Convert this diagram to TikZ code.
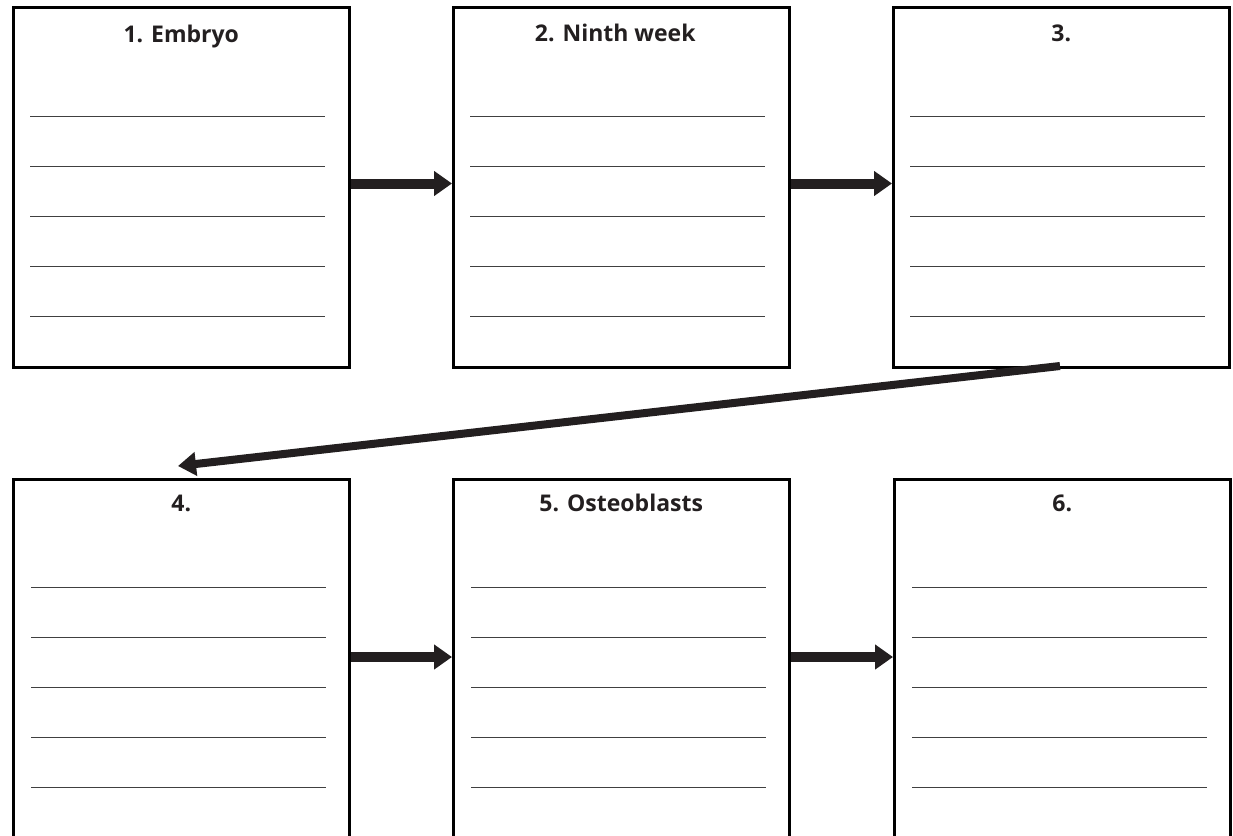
\documentclass[tikz,border=0pt]{standalone}
\usepackage{fontspec}
\setmainfont{Open Sans}
\usetikzlibrary{arrows.meta}
\definecolor{ink}{HTML}{231F20}
\tikzset{
  box/.style={draw=black, line width=2.5pt, fill=white, rectangle, inner sep=0pt,
    minimum width=336pt, minimum height=360pt, anchor=north west},
  lowbox/.style={box, minimum height=380pt},
  title/.style={anchor=base, font=\fontsize{23}{26}\selectfont\bfseries, text=ink, inner sep=0pt},
  rule/.style={draw=black!75, line width=1pt},
  flow/.style={draw=ink, line width=10pt, -{Triangle[length=18pt,width=24pt]}},
  diag/.style={draw=ink, line width=8pt, -{Triangle[length=18pt,width=23pt]}},
}
\begin{document}
\begin{tikzpicture}[x=1pt,y=-1pt]
\useasboundingbox (0,0) rectangle (1233,835);
\fill[white] (0,0) rectangle (1233,835);
% top row
\node[box] (b1) at (12,6) {};
\node[box] (b2) at (452,6) {};
\node[box] (b3) at (892,6) {};
% bottom row
\node[lowbox] (b4) at (12,478) {};
\node[lowbox] (b5) at (452,478) {};
\node[lowbox] (b6) at (893,478) {};
% titles
\node[title] (t1) at ([yshift=-36pt]b1.north) {1. Embryo};
\node[title] (t2) at ([yshift=-35pt,xshift=-6pt]b2.north) {2. Ninth week};
\node[title] (t3) at ([yshift=-35pt]b3.north) {3.};
\node[title] (t4) at ([yshift=-33pt]b4.north) {4.};
\node[title] (t5) at ([yshift=-33pt]b5.north) {5. Osteoblasts};
\node[title] (t6) at ([yshift=-33pt]b6.north) {6.};
% writing lines
\foreach \b in {b1,b2,b3}{
  \foreach \y in {110,160,210,260,310}{
    \draw[rule] ([xshift=18pt,yshift=-\y pt]\b.north west) -- ([xshift=-26pt,yshift=-\y pt]\b.north east);
  }
}
\foreach \b in {b4,b5,b6}{
  \foreach \y in {109,159,209,259,309}{
    \draw[rule] ([xshift=19pt,yshift=-\y pt]\b.north west) -- ([xshift=-25pt,yshift=-\y pt]\b.north east);
  }
}
% connectors
\coordinate (r1) at (0,183.5);
\coordinate (r2) at (0,657);
\draw[flow] (b1.east |- r1) -- (b2.west |- r1);
\draw[flow] (b2.east |- r1) -- (b3.west |- r1);
\draw[flow] (b4.east |- r2) -- (b5.west |- r2);
\draw[flow] (b5.east |- r2) -- (b6.west |- r2);
\coordinate (ds) at (1060,366);
\coordinate (de) at (178,466);
\draw[diag] (ds) -- (de);
\end{tikzpicture}
\end{document}
